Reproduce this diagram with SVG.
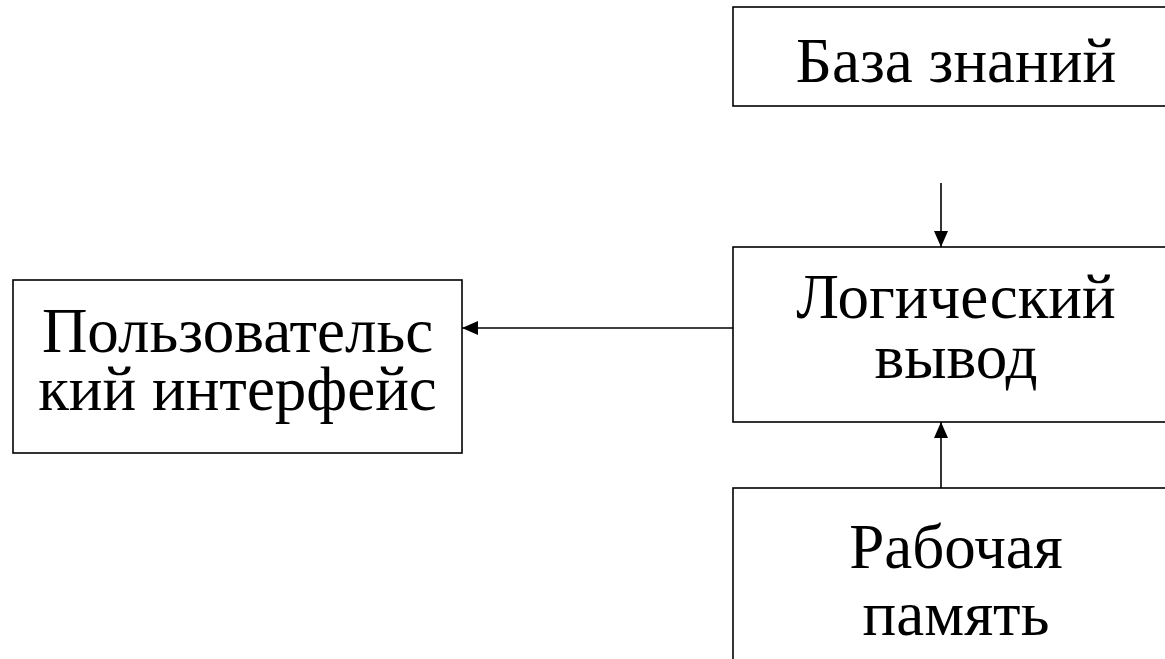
<svg xmlns="http://www.w3.org/2000/svg" width="1165" height="659" viewBox="0 0 1165 659">
<style>
.box{fill:#fff;stroke:#000;stroke-width:1.6}
.t{font-family:"Liberation Serif","Times New Roman",serif;font-size:63px;fill:#000;text-anchor:middle}
.c{stroke:#000;stroke-width:1.6;fill:none;marker-end:url(#ah)}
</style>
<defs>
<marker id="ah" viewBox="0 0 16 14" refX="16" refY="7" markerWidth="16" markerHeight="14" markerUnits="userSpaceOnUse" orient="auto">
<path d="M0,0 L16,7 L0,14 Z" fill="#000"/>
</marker>
</defs>
<rect width="1165" height="659" fill="#fff"/>
<g id="kb">
<rect class="box" x="733" y="7" width="460" height="99"/>
<text class="t" x="956" y="82">База знаний</text>
</g>
<g id="inference">
<rect class="box" x="733" y="247" width="460" height="175"/>
<text class="t" x="956" y="318">Логический</text>
<text class="t" x="956" y="378">вывод</text>
</g>
<g id="memory">
<rect class="box" x="733" y="488" width="460" height="220"/>
<text class="t" x="956" y="568">Рабочая</text>
<text class="t" x="956" y="635">память</text>
</g>
<g id="ui">
<rect class="box" x="13" y="280" width="449" height="173"/>
<text class="t" x="237.5" y="352">Пользовательс</text>
<text class="t" x="237.5" y="410">кий интерфейс</text>
</g>
<g id="connectors">
<line class="c" x1="941" y1="183" x2="941" y2="247"/>
<line class="c" x1="941" y1="488" x2="941" y2="422"/>
<line class="c" x1="733" y1="328" x2="462" y2="328"/>
</g>
</svg>
